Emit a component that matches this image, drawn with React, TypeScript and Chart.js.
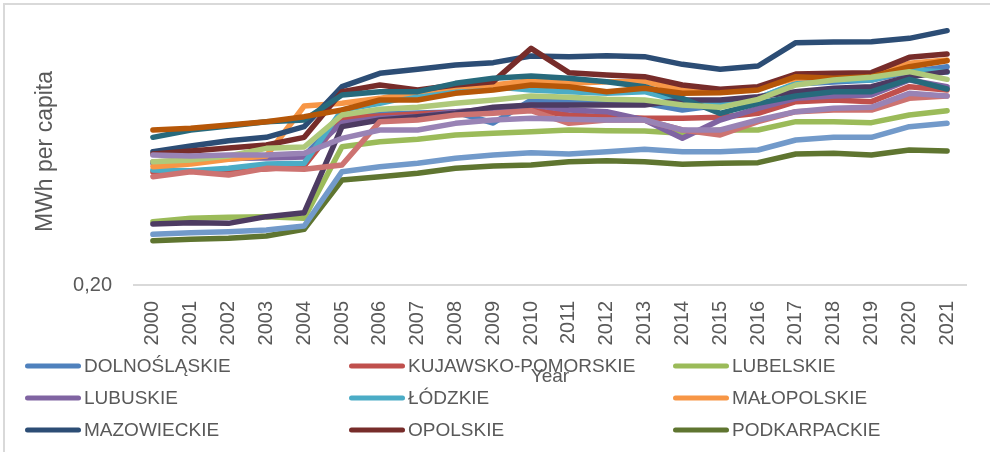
import React, { useEffect, useRef } from 'react';
import { Chart, registerables } from 'chart.js';

Chart.register(...registerables);

const years = ['2000','2001','2002','2003','2004','2005','2006','2007','2008','2009','2010','2011','2012','2013','2014','2015','2016','2017','2018','2019','2020','2021'];

const regions = ['DOLNOŚLĄSKIE','KUJAWSKO-POMORSKIE','LUBELSKIE','LUBUSKIE','ŁÓDZKIE','MAŁOPOLSKIE','MAZOWIECKIE','OPOLSKIE','PODKARPACKIE','PODLASKIE','POMORSKIE','ŚLĄSKIE','ŚWIĘTOKRZYSKIE','WARMIŃSKO-MAZURSKIE','WIELKOPOLSKIE','ZACHODNIOPOMORSKIE'];

const regionColors = ['#4F81BD','#C0504D','#9BBB59','#8064A2','#4BACC6','#F79646','#2C4D75','#772C2A','#5F7530','#4D3B62','#276A7C','#B65708','#729ACA','#CD7371','#AFC97A','#9983B5'];

const dolnoslaskie = [0.566,0.572,0.578,0.584,0.587,0.704,0.713,0.716,0.719,0.686,0.755,0.750,0.745,0.745,0.725,0.740,0.761,0.803,0.809,0.815,0.839,0.855];
const kujawskoPomorskie = [0.539,0.542,0.545,0.548,0.557,0.701,0.707,0.713,0.719,0.725,0.725,0.710,0.705,0.700,0.700,0.703,0.715,0.750,0.755,0.750,0.795,0.785];
const lubelskie = [0.390,0.400,0.403,0.405,0.400,0.615,0.630,0.637,0.650,0.655,0.660,0.665,0.663,0.662,0.655,0.665,0.665,0.690,0.690,0.687,0.710,0.723];
const lubuskie = [0.569,0.575,0.581,0.581,0.584,0.686,0.700,0.705,0.720,0.727,0.740,0.725,0.720,0.695,0.640,0.695,0.730,0.760,0.767,0.770,0.815,0.795];
const lodzkie = [0.545,0.543,0.550,0.563,0.565,0.725,0.745,0.770,0.785,0.795,0.785,0.780,0.775,0.780,0.750,0.745,0.760,0.805,0.815,0.815,0.845,0.839];
const malopolskie = [0.555,0.563,0.577,0.587,0.737,0.745,0.760,0.780,0.795,0.800,0.813,0.805,0.810,0.810,0.785,0.780,0.790,0.820,0.825,0.830,0.865,0.875];
const mazowieckie = [0.600,0.617,0.633,0.643,0.675,0.795,0.835,0.847,0.860,0.867,0.887,0.885,0.888,0.885,0.862,0.847,0.857,0.927,0.929,0.930,0.940,0.963];
const opolskie = [0.593,0.602,0.611,0.620,0.643,0.780,0.800,0.785,0.800,0.810,0.910,0.837,0.830,0.825,0.800,0.787,0.795,0.833,0.835,0.837,0.883,0.893];
const podkarpackie = [0.333,0.337,0.340,0.347,0.367,0.515,0.525,0.535,0.550,0.557,0.560,0.570,0.573,0.570,0.562,0.565,0.567,0.593,0.595,0.590,0.605,0.602];
const podlaskie = [0.383,0.387,0.385,0.405,0.417,0.675,0.695,0.705,0.715,0.733,0.740,0.740,0.740,0.740,0.755,0.755,0.765,0.780,0.790,0.795,0.825,0.840];
const pomorskie = [0.643,0.665,0.677,0.690,0.695,0.770,0.780,0.780,0.805,0.820,0.827,0.820,0.810,0.795,0.760,0.715,0.745,0.767,0.780,0.780,0.817,0.788];
const slaskie = [0.665,0.670,0.680,0.690,0.705,0.725,0.755,0.755,0.775,0.785,0.800,0.795,0.780,0.790,0.775,0.777,0.785,0.825,0.820,0.825,0.855,0.873];
const swietokrzyskie = [0.352,0.357,0.360,0.365,0.377,0.540,0.555,0.565,0.580,0.590,0.597,0.593,0.600,0.607,0.600,0.600,0.605,0.635,0.643,0.643,0.675,0.685];
const warminskoMazurskie = [0.525,0.540,0.530,0.550,0.547,0.560,0.690,0.695,0.710,0.715,0.723,0.685,0.695,0.695,0.665,0.650,0.690,0.720,0.725,0.725,0.760,0.767];
const wielkopolskie = [0.570,0.575,0.587,0.610,0.614,0.710,0.727,0.733,0.745,0.755,0.767,0.763,0.757,0.755,0.740,0.733,0.757,0.800,0.815,0.823,0.840,0.817];
const zachodniopomorskie = [0.590,0.587,0.590,0.590,0.595,0.640,0.665,0.665,0.685,0.695,0.700,0.697,0.695,0.695,0.665,0.665,0.695,0.720,0.730,0.733,0.775,0.767];

const seriesValues = [dolnoslaskie,kujawskoPomorskie,lubelskie,lubuskie,lodzkie,malopolskie,mazowieckie,opolskie,podkarpackie,podlaskie,pomorskie,slaskie,swietokrzyskie,warminskoMazurskie,wielkopolskie,zachodniopomorskie];

const yTickValues = [0.2];
const yMin = 0.2;
const yMax = 1.001;
const legendCount = 9;

const FONT = '"Liberation Sans", Arial, sans-serif';
const TEXT = '#595959';

const frameAndLegend = {
  id: 'frameAndLegend',
  beforeDraw(chart: any) {
    const ctx = chart.ctx;
    ctx.save();
    ctx.strokeStyle = '#d9d9d9';
    ctx.lineWidth = 2;
    ctx.beginPath();
    ctx.moveTo(4, 452);
    ctx.lineTo(4, 4);
    ctx.lineTo(990, 4);
    ctx.stroke();
    ctx.restore();
  },
  afterDraw(chart: any) {
    const ctx = chart.ctx;
    ctx.save();
    chart.data.datasets.slice(0, legendCount).forEach((ds: any, i: number) => {
      const col = i % 3;
      const row = Math.floor(i / 3);
      const x = 25 + col * 324;
      const y = 366 + row * 32;
      ctx.strokeStyle = ds.borderColor;
      ctx.lineWidth = 5;
      ctx.lineCap = 'round';
      ctx.beginPath();
      ctx.moveTo(x + 2.5, y);
      ctx.lineTo(x + 53.5, y);
      ctx.stroke();
      ctx.fillStyle = TEXT;
      ctx.font = '19px ' + FONT;
      ctx.textBaseline = 'middle';
      ctx.textAlign = 'left';
      ctx.fillText(ds.label, x + 59, y + 1);
    });
    ctx.restore();
  },
};

export default function App() {
  const ref = useRef<HTMLCanvasElement>(null);
  useEffect(() => {
    const chart = new Chart(ref.current as HTMLCanvasElement, {
      type: 'line',
      data: {
        labels: years,
        datasets: regions.map((name, i) => ({
          label: name,
          data: seriesValues[i],
          borderColor: regionColors[i],
          backgroundColor: regionColors[i],
          borderWidth: 5.5,
          pointRadius: 0,
          pointHoverRadius: 0,
          tension: 0,
          fill: false,
          borderJoinStyle: 'round' as const,
          borderCapStyle: 'round' as const,
          order: regions.length - i,
          clip: false as any,
        })),
      },
      options: {
        responsive: false,
        animation: false,
        layout: { padding: { top: 18, right: 24, bottom: 63.6, left: 0 } },
        plugins: {
          legend: { display: false },
          tooltip: { enabled: false },
        },
        scales: {
          x: {
            type: 'category',
            offset: true,
            grid: { display: false, drawTicks: false, tickLength: 0 },
            border: { display: true, color: '#d9d9d9', width: 2 },
            ticks: {
              autoSkip: false,
              minRotation: 90,
              maxRotation: 90,
              padding: 16,
              color: TEXT,
              font: { size: 20, family: FONT },
            },
            title: {
              display: true,
              text: 'Year',
              color: TEXT,
              font: { size: 19, family: FONT },
              padding: { top: 0, bottom: 0 },
            },
            afterFit: (s: any) => {
              s.height = 103.4;
              s.paddingLeft = 0;
              s.paddingRight = 0;
              s.paddingTop = 0;
              s.paddingBottom = 0;
            },
          },
          y: {
            type: 'linear',
            min: yMin,
            max: yMax,
            afterBuildTicks: (s: any) => { s.ticks = yTickValues.map((v) => ({ value: v })); },
            grid: { display: false, drawTicks: false, tickLength: 0 },
            border: { display: false },
            ticks: {
              padding: 22,
              color: TEXT,
              font: { size: 20, family: FONT },
              callback: (v: any) => Number(v).toFixed(2).replace('.', ','),
            },
            title: {
              display: true,
              text: 'MWh per capita',
              color: TEXT,
              font: { size: 23, family: FONT },
              padding: { top: 32, bottom: 0 },
            },
            afterFit: (s: any) => {
              s.width = 134;
              s.paddingTop = 0;
              s.paddingBottom = 0;
              s.paddingLeft = 0;
              s.paddingRight = 0;
            },
          },
        },
      },
      plugins: [frameAndLegend],
    } as any);
    return () => chart.destroy();
  }, []);
  return (
    <div style={{ position: 'fixed', left: 0, top: 0, width: 990, height: 452, background: '#ffffff' }}>
      <canvas ref={ref} width={990} height={452} style={{ display: 'block' }} />
    </div>
  );
}
